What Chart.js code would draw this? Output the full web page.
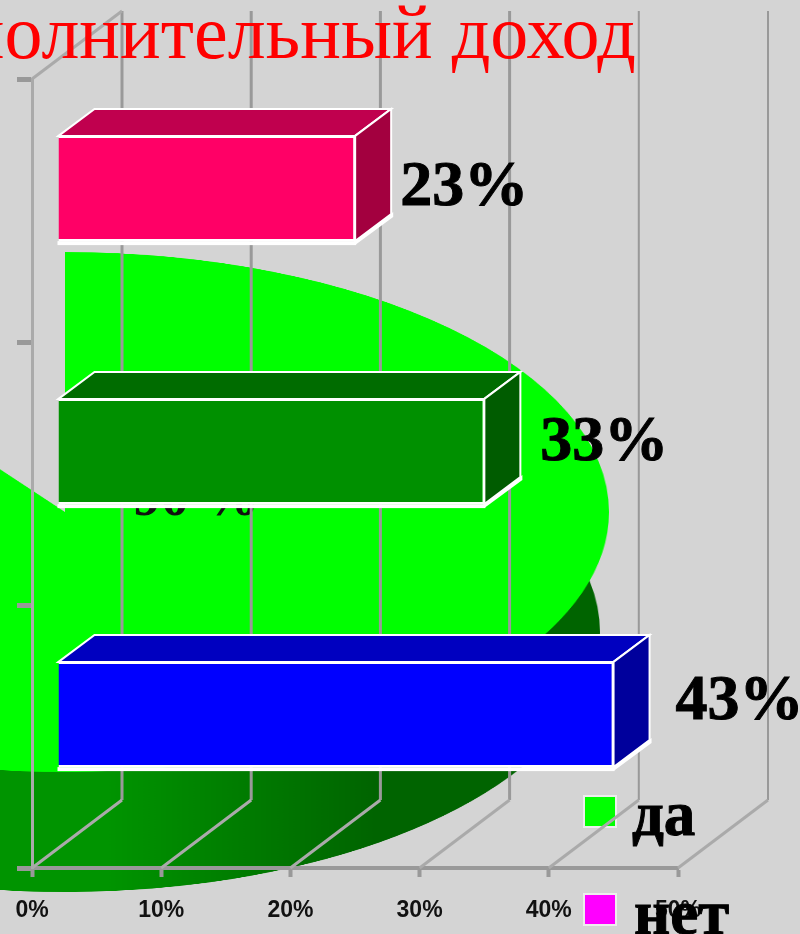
<!DOCTYPE html>
<html><head><meta charset="utf-8">
<script src="https://cdn.jsdelivr.net/npm/chart.js@4"></script>
<style>
html,body{margin:0;padding:0;width:800px;height:934px;overflow:hidden;background:#d4d4d4}
canvas{position:absolute;display:block;transform-origin:0 0}
</style></head><body>
<canvas id="pieSide" width="1200" height="1200"></canvas>
<canvas id="pieTop" width="1200" height="1200"></canvas>
<canvas id="main" width="800" height="934"></canvas>
<script>
// Data
const titleText = 'Дополнительный доход';
const categories = ['Группа 1', 'Группа 2', 'Группа 3'];
const barValues = [23, 33, 43];
const axisTicks = [0, 10, 20, 30, 40, 50];
const pieLabels = ['да', 'нет'];
const pieValues = [90, 10];

// Styles
const barFront = ['#ff0066', '#009000', '#0000ff'];
const barTop = ['#c0004e', '#006c00', '#0000c0'];
const barSide = ['#a3003f', '#005c00', '#00009c'];
const legendColors = ['#00ff00', '#ff00ff'];
const gridColor = '#999999';

function placePie(id, cx, cy, rx, ry) {
  const c = document.getElementById(id), r = c.width / 2;
  c.style.left = (cx - rx) + 'px';
  c.style.top = (cy - ry) + 'px';
  c.style.transform = 'scale(' + (rx / r) + ',' + (ry / r) + ')';
}
function makePie(id, fill) {
  return new Chart(document.getElementById(id), {
    type: 'pie',
    data: { labels: pieLabels, datasets: [{ data: pieValues, backgroundColor: [fill, 'rgba(0,0,0,0)'], borderWidth: 0 }] },
    options: { responsive: false, animation: false, layout: { padding: 0 }, plugins: { legend: { display: false }, tooltip: { enabled: false } } }
  });
}
placePie('pieSide', 65, 632, 535, 260);
placePie('pieTop', 65, 512, 544, 260);
const sideCtx = document.getElementById('pieSide').getContext('2d');
const sideGrad = sideCtx.createLinearGradient(650, 0, 950, 0);
sideGrad.addColorStop(0, '#009400');
sideGrad.addColorStop(1, '#006400');
makePie('pieSide', sideGrad);
makePie('pieTop', '#00ff00');

const shift = { x: 26, y: -22 };     // bars sit in the middle of the 3D floor
const depth = { x: 36, y: -27 };     // bar extrusion
const wall = { x: 90, y: -68 };      // back wall offset
const labelNudge = [{ x: 45, y: 16 }, { x: 56, y: 8 }, { x: 62, y: 4 }];

function heavyText(ctx, text, x, y) {
  ctx.lineWidth = 1;
  ctx.strokeStyle = '#000';
  ctx.fillText(text, x, y);
  ctx.strokeText(text, x, y);
}

const scene = {
  id: 'scene',
  beforeDatasetsDraw(chart) {
    const ctx = chart.ctx, xs = chart.scales.x, a = chart.chartArea;
    ctx.save();
    // pie label, mostly hidden behind the middle bar
    ctx.fillStyle = '#111';
    ctx.font = 'bold 56px "Liberation Serif"';
    ctx.textAlign = 'left';
    ctx.textBaseline = 'alphabetic';
    ctx.fillText(pieValues[0] + ' %', 133, 515);
    // legend swatches
    const swY = [796, 894];
    pieLabels.forEach((l, i) => {
      ctx.fillStyle = '#eeeeee';
      ctx.fillRect(583, swY[i] - 1, 34, 33);
      ctx.fillStyle = legendColors[i];
      ctx.fillRect(585, swY[i] + 1, 30, 29);
    });
    // walls: gridlines on the back wall and floor diagonals
    axisTicks.forEach((t, i) => {
      const px = xs.getPixelForValue(t);
      ctx.strokeStyle = gridColor;
      ctx.lineWidth = i < 4 ? 3 : 2;
      ctx.beginPath();
      ctx.moveTo(px + wall.x, a.bottom + wall.y);
      ctx.lineTo(px + wall.x, a.top + wall.y);
      ctx.stroke();
      ctx.lineWidth = 3;
      ctx.strokeStyle = '#aaaaaa';
      ctx.beginPath();
      ctx.moveTo(px, a.bottom);
      ctx.lineTo(px + wall.x, a.bottom + wall.y);
      ctx.stroke();
    });
    ctx.lineWidth = 3;
    ctx.strokeStyle = '#aaaaaa';
    ctx.beginPath();
    ctx.moveTo(a.left, a.top);
    ctx.lineTo(a.left + wall.x, a.top + wall.y);
    ctx.stroke();
    // title, running off the left edge
    ctx.fillStyle = '#ff0000';
    ctx.font = '76px "Liberation Serif"';
    ctx.textAlign = 'right';
    ctx.fillText(titleText, 636, 58);
    ctx.textAlign = 'left';
    // 3D faces of the bars
    ctx.translate(shift.x, shift.y);
    chart.getDatasetMeta(0).data.forEach((el, i) => {
      const l = el.base, r = el.x, t = el.y - el.height / 2, b = el.y + el.height / 2;
      ctx.fillStyle = '#ffffff';
      ctx.fillRect(l - 1, b, r - l + 2, 4);
      ctx.beginPath();
      ctx.moveTo(r, b + 4); ctx.lineTo(r + depth.x + 2, b + depth.y + 3); ctx.lineTo(r + depth.x + 2, b + depth.y - 2); ctx.lineTo(r, b);
      ctx.closePath(); ctx.fill();
      ctx.strokeStyle = '#ffffff';
      ctx.lineWidth = 2;
      ctx.fillStyle = barTop[i];
      ctx.beginPath();
      ctx.moveTo(l, t); ctx.lineTo(l + depth.x, t + depth.y); ctx.lineTo(r + depth.x, t + depth.y); ctx.lineTo(r, t);
      ctx.closePath(); ctx.fill(); ctx.stroke();
      ctx.fillStyle = barSide[i];
      ctx.beginPath();
      ctx.moveTo(r, t); ctx.lineTo(r + depth.x, t + depth.y); ctx.lineTo(r + depth.x, b + depth.y); ctx.lineTo(r, b);
      ctx.closePath(); ctx.fill(); ctx.stroke();
    });
  },
  afterDatasetsDraw(chart) {
    const ctx = chart.ctx;
    ctx.restore();
    ctx.save();
    // value labels
    ctx.fillStyle = '#000';
    ctx.font = 'bold 64px "Liberation Serif"';
    ctx.textAlign = 'left';
    ctx.textBaseline = 'alphabetic';
    chart.getDatasetMeta(0).data.forEach((el, i) => {
      heavyText(ctx, barValues[i] + '%', el.x + shift.x + labelNudge[i].x, el.y + shift.y + labelNudge[i].y);
    });
    // legend text
    ctx.font = 'bold 63px "Liberation Serif"';
    heavyText(ctx, pieLabels[0], 632, 835);
    heavyText(ctx, pieLabels[1], 634, 934);
    ctx.restore();
  }
};

new Chart(document.getElementById('main'), {
  type: 'bar',
  data: {
    labels: categories,
    datasets: [{
      data: barValues,
      backgroundColor: barFront,
      borderColor: '#ffffff',
      borderWidth: 2,
      barPercentage: 0.4,
      categoryPercentage: 1,
      clip: false
    }]
  },
  plugins: [scene],
  options: {
    indexAxis: 'y',
    responsive: false,
    animation: false,
    layout: { padding: { top: 79, right: 122, left: 0, bottom: 0 } },
    plugins: { legend: { display: false }, title: { display: false }, tooltip: { enabled: false } },
    scales: {
      x: {
        min: axisTicks[0],
        max: axisTicks[axisTicks.length - 1],
        ticks: {
          stepSize: 10,
          maxRotation: 0,
          padding: 20,
          color: '#111',
          font: { family: '"Liberation Sans"', size: 23, weight: 'bold' },
          callback: v => v + '%'
        },
        grid: { drawOnChartArea: false, tickLength: 9, tickWidth: 4, tickColor: gridColor, color: gridColor },
        border: { color: '#999999', width: 4 },
        afterFit(s) { s.height = 66; s.paddingLeft = 0; s.paddingRight = 0; }
      },
      y: {
        ticks: { callback: () => '', padding: 0 },
        grid: { drawOnChartArea: false, tickLength: 15, tickWidth: 5, tickColor: gridColor, color: gridColor },
        border: { color: '#aaaaaa', width: 3 },
        afterFit(s) { s.width = 32; }
      }
    }
  }
});
</script>
</body></html>
